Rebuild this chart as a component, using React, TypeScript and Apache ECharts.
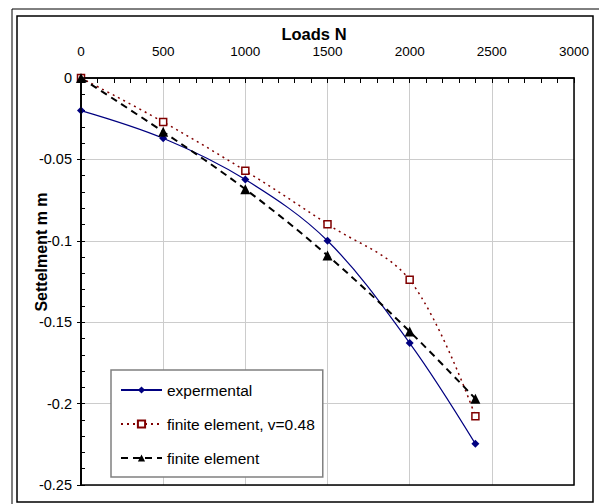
import React, { useEffect, useRef } from "react";
import * as echarts from "echarts";

const loads = [0, 500, 1000, 1500, 2000, 2400];
const experimental = [-0.02, -0.037, -0.0624, -0.1, -0.1628, -0.2247];
const feV048 = [0, -0.027, -0.057, -0.0898, -0.124, -0.2078];
const fe = [0, -0.033, -0.0683, -0.109, -0.1557, -0.197];
const seriesNames = ["expermental", "finite element, v=0.48", "finite element"];
const xTitle = "Loads N";
const yTitle = "Settelment m m";

const FONT = "'Liberation Sans', Arial, Helvetica, sans-serif";

export default function App() {
  const ref = useRef<HTMLDivElement>(null);
  useEffect(() => {
    if (!ref.current) return;
    const chart = echarts.init(ref.current, undefined, { renderer: "svg" });
    const pairs = (ys: number[]) => loads.map((x, i) => [x, ys[i]]);
    chart.setOption({
      animation: false,
      backgroundColor: "#ffffff",
      textStyle: { fontFamily: FONT },
      grid: { left: 81, top: 78, width: 493, height: 407, show: false },
      xAxis: {
        type: "value",
        position: "top",
        min: 0,
        max: 3000,
        interval: 500,
        axisLine: { show: true, lineStyle: { color: "#000", width: 1.5 } },
        axisTick: { show: true, inside: true, length: 5, lineStyle: { color: "#000" } },
        minorTick: { show: true, splitNumber: 5, length: 5, lineStyle: { color: "#000" } },
        axisLabel: {
          margin: 20,
          fontSize: 13.5,
          color: "#000",
          fontFamily: FONT,
          formatter: (v: number) => String(v),
        },
        splitLine: { show: true, lineStyle: { color: "#cccccc", width: 1 } },
      },
      yAxis: [
        {
          type: "value",
          min: -0.25,
          max: 0,
          interval: 0.05,
          axisLine: { show: true, lineStyle: { color: "#000", width: 1.5 } },
          axisTick: { show: true, inside: false, length: 4, lineStyle: { color: "#000" } },
          axisLabel: {
            margin: 9,
            fontSize: 14.5,
            color: "#000",
            fontFamily: FONT,
            formatter: (v: number) => String(Math.round(v * 100) / 100),
          },
          splitLine: { show: true, lineStyle: { color: "#cccccc", width: 1 } },
        },
        {
          type: "value",
          position: "left",
          min: -0.25,
          max: 0,
          interval: 0.05,
          axisLine: { show: true, lineStyle: { color: "#000", width: 1.5 } },
          axisTick: { show: true, inside: true, length: 4, lineStyle: { color: "#000" } },
          minorTick: { show: true, splitNumber: 5, length: 4, lineStyle: { color: "#000" } },
          axisLabel: { show: false },
          splitLine: { show: false },
        },
      ],
      legend: {
        orient: "vertical",
        left: 111,
        top: 370,
        padding: [10, 8, 9, 9],
        backgroundColor: "#ffffff",
        borderColor: "#808080",
        borderWidth: 1.5,
        itemWidth: 41,
        itemHeight: 9,
        itemGap: 14,
        textStyle: { fontSize: 15.5, lineHeight: 20, color: "#000", fontFamily: FONT },
        data: seriesNames,
      },
      graphic: [
        { type: "line", shape: { x1: 12, y1: 9, x2: 599, y2: 9 }, style: { stroke: "#000", lineWidth: 1 }, silent: true },
        { type: "line", shape: { x1: 12, y1: 9, x2: 12, y2: 504 }, style: { stroke: "#000", lineWidth: 1 }, silent: true },
        { type: "rect", shape: { x: 17, y: 16, width: 576, height: 486 }, style: { fill: "none", stroke: "#000", lineWidth: 1.5 }, silent: true },
        { type: "rect", shape: { x: 81, y: 78, width: 493, height: 407 }, style: { fill: "none", stroke: "#000", lineWidth: 1.5 }, silent: true, z: 10 },
        {
          type: "text",
          x: 314,
          y: 34,
          style: { text: xTitle, fontSize: 16.5, fontWeight: "bold", fill: "#000", align: "center", verticalAlign: "middle", fontFamily: FONT },
        },
        {
          type: "text",
          x: 41,
          y: 252,
          rotation: Math.PI / 2,
          style: { text: yTitle, fontSize: 16, fontWeight: "bold", fill: "#000", align: "center", verticalAlign: "middle", fontFamily: FONT },
        },
      ],
      series: [
        {
          name: seriesNames[0],
          type: "line",
          data: pairs(experimental),
          smooth: 0.35,
          symbol: "diamond",
          symbolSize: 8,
          itemStyle: { color: "#000080" },
          lineStyle: { color: "#000080", width: 1.2 },
          z: 4,
        },
        {
          name: seriesNames[1],
          type: "line",
          data: pairs(feV048),
          smooth: 0.35,
          symbol: "rect",
          symbolSize: 7,
          itemStyle: { color: "#ffffff", borderColor: "#800000", borderWidth: 1.5 },
          lineStyle: { color: "#800000", width: 1.5, type: [2, 4] },
          z: 3,
        },
        {
          name: seriesNames[2],
          type: "line",
          data: pairs(fe),
          smooth: 0.35,
          symbol: "triangle",
          symbolSize: 10,
          itemStyle: { color: "#000000" },
          lineStyle: { color: "#000000", width: 2, type: [7, 5] },
          z: 5,
        },
      ],
    });
    return () => chart.dispose();
  }, []);
  return (
    <div
      ref={ref}
      style={{ position: "fixed", left: 0, top: 0, width: 599, height: 504 }}
    />
  );
}
